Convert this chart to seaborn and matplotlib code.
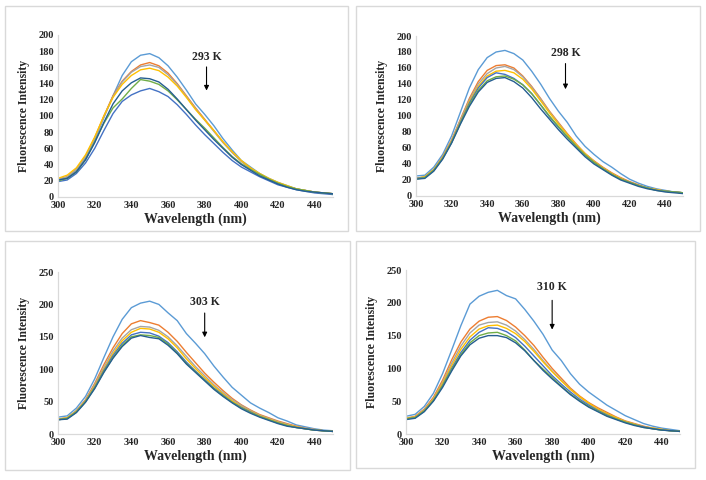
import numpy as np
import pandas as pd
import seaborn as sns
from matplotlib import pyplot as plt
from matplotlib.patches import Rectangle

# wavelength grid (nm)
wl = list(range(300, 451, 5))

# Excel-like palette, one colour per titrant concentration
colors = ['#5B9BD5', '#ED7D31', '#A5A5A5', '#FFC000', '#4472C4', '#70AD47', '#255E91']
series_names = ['s1', 's2', 's3', 's4', 's5', 's6', 's7']

# ---- 293 K ----
k293_s1 = [22, 24, 33, 48, 70, 98, 125, 150, 167, 175, 177, 172, 162, 148, 132, 115, 102, 88, 72, 58, 45, 37, 29, 23, 18, 14, 10, 8, 6, 5, 4]
k293_s2 = [21, 25, 34, 50, 73, 100, 125, 143, 155, 163, 166, 162, 153, 140, 125, 110, 96, 82, 68, 55, 44, 35, 28, 22, 17, 13, 10, 8, 6, 5, 4]
k293_s3 = [22, 25, 34, 50, 72, 99, 124, 142, 154, 161, 163, 160, 151, 139, 124, 109, 95, 81, 67, 55, 44, 35, 28, 22, 17, 13, 10, 8, 6, 5, 4]
k293_s4 = [23, 27, 36, 52, 74, 100, 123, 139, 150, 157, 159, 156, 148, 137, 123, 108, 95, 82, 68, 56, 45, 36, 29, 23, 18, 14, 10, 8, 6, 5, 4]
k293_s5 = [19, 21, 29, 42, 60, 82, 103, 118, 126, 131, 134, 130, 124, 114, 102, 89, 77, 66, 55, 45, 37, 31, 25, 20, 15, 12, 9, 7, 5, 4, 3]
k293_s6 = [20, 23, 31, 46, 68, 91, 110, 121, 134, 145, 143, 139, 131, 120, 108, 96, 85, 73, 61, 50, 41, 34, 28, 22, 17, 13, 10, 8, 6, 5, 4]
k293_s7 = [21, 23, 31, 46, 67, 92, 115, 131, 141, 147, 146, 142, 133, 121, 108, 95, 83, 71, 60, 49, 40, 33, 26, 21, 16, 12, 9, 7, 6, 5, 4]

# ---- 298 K ----
k298_s1 = [25, 26, 36, 52, 75, 105, 135, 158, 173, 180, 182, 178, 170, 156, 140, 122, 106, 92, 75, 62, 52, 43, 36, 28, 21, 16, 12, 9, 7, 5, 4]
k298_s2 = [22, 24, 33, 49, 70, 96, 122, 143, 157, 163, 164, 160, 150, 137, 122, 106, 92, 78, 65, 53, 44, 36, 29, 23, 18, 14, 10, 8, 6, 5, 4]
k298_s3 = [22, 24, 33, 48, 69, 95, 120, 140, 153, 160, 162, 158, 149, 136, 121, 105, 91, 77, 64, 53, 43, 35, 28, 22, 17, 13, 10, 8, 6, 5, 4]
k298_s4 = [22, 24, 33, 48, 68, 93, 118, 137, 150, 156, 157, 154, 146, 134, 119, 104, 90, 77, 64, 53, 43, 35, 28, 22, 17, 13, 10, 8, 6, 5, 4]
k298_s5 = [22, 23, 32, 47, 67, 92, 116, 135, 148, 154, 152, 147, 139, 128, 114, 99, 86, 74, 62, 51, 42, 34, 27, 21, 17, 13, 10, 7, 6, 5, 4]
k298_s6 = [21, 23, 32, 47, 67, 91, 114, 132, 144, 149, 150, 146, 139, 128, 114, 100, 87, 74, 62, 51, 42, 34, 27, 21, 17, 13, 10, 7, 6, 5, 4]
k298_s7 = [21, 22, 31, 46, 66, 90, 112, 130, 142, 147, 148, 143, 135, 123, 109, 96, 83, 71, 60, 49, 40, 33, 26, 20, 16, 12, 9, 7, 5, 4, 3]

# ---- 303 K ----
k303_s1 = [26, 28, 40, 58, 85, 118, 150, 177, 195, 202, 205, 200, 187, 175, 155, 140, 124, 105, 88, 72, 60, 48, 40, 33, 25, 20, 14, 11, 8, 6, 5]
k303_s2 = [23, 25, 36, 53, 78, 107, 133, 155, 170, 175, 172, 168, 157, 143, 126, 110, 94, 80, 67, 55, 45, 37, 30, 25, 20, 16, 12, 9, 7, 5, 4]
k303_s3 = [23, 25, 36, 52, 76, 103, 128, 148, 161, 166, 165, 160, 150, 136, 120, 104, 90, 76, 64, 53, 44, 36, 29, 24, 19, 15, 11, 9, 7, 5, 4]
k303_s4 = [23, 25, 35, 51, 74, 100, 124, 144, 157, 163, 162, 157, 147, 133, 116, 101, 87, 74, 62, 51, 42, 35, 28, 23, 18, 14, 11, 8, 6, 5, 4]
k303_s5 = [22, 24, 34, 50, 72, 98, 121, 140, 153, 157, 156, 151, 141, 127, 111, 97, 84, 71, 60, 49, 41, 34, 27, 22, 17, 13, 10, 8, 6, 5, 4]
k303_s6 = [22, 24, 34, 50, 71, 96, 118, 137, 150, 153, 152, 149, 139, 125, 109, 96, 83, 70, 59, 49, 40, 33, 27, 22, 17, 13, 10, 8, 6, 5, 4]
k303_s7 = [22, 23, 33, 49, 70, 95, 117, 135, 148, 152, 149, 147, 137, 124, 108, 95, 82, 69, 58, 48, 39, 32, 26, 21, 16, 12, 10, 8, 6, 5, 4]

# ---- 310 K ----
k310_s1 = [27, 30, 42, 62, 92, 128, 165, 198, 210, 216, 219, 211, 206, 190, 172, 152, 128, 112, 92, 76, 64, 54, 44, 36, 28, 22, 16, 12, 9, 7, 5]
k310_s2 = [24, 27, 38, 56, 82, 113, 140, 160, 172, 178, 179, 173, 163, 150, 135, 117, 100, 85, 70, 58, 48, 40, 33, 26, 20, 16, 12, 9, 7, 5, 4]
k310_s3 = [24, 26, 37, 54, 79, 108, 134, 154, 166, 170, 171, 166, 157, 144, 129, 112, 96, 82, 68, 56, 46, 38, 31, 25, 19, 15, 11, 9, 7, 5, 4]
k310_s4 = [24, 26, 36, 53, 77, 104, 129, 148, 160, 165, 166, 161, 153, 141, 126, 110, 95, 81, 68, 57, 47, 38, 31, 25, 19, 15, 11, 9, 7, 5, 4]
k310_s5 = [23, 25, 35, 51, 74, 100, 124, 143, 155, 162, 161, 156, 147, 134, 119, 104, 89, 76, 64, 53, 44, 36, 29, 23, 18, 14, 11, 8, 6, 5, 4]
k310_s6 = [23, 25, 35, 51, 73, 98, 121, 139, 150, 154, 155, 150, 142, 128, 112, 99, 86, 73, 61, 51, 42, 35, 28, 23, 18, 14, 10, 8, 6, 5, 4]
k310_s7 = [22, 24, 34, 50, 71, 96, 119, 136, 146, 150, 150, 147, 139, 127, 112, 97, 84, 72, 60, 50, 41, 34, 27, 22, 17, 13, 10, 8, 6, 5, 4]

panels = [
    ('293 K', [k293_s1, k293_s2, k293_s3, k293_s4, k293_s5, k293_s6, k293_s7], 200, 20, (381, 173), (164, 128)),
    ('298 K', [k298_s1, k298_s2, k298_s3, k298_s4, k298_s5, k298_s6, k298_s7], 200, 20, (384, 179), (169, 130)),
    ('303 K', [k303_s1, k303_s2, k303_s3, k303_s4, k303_s5, k303_s6, k303_s7], 250, 50, (380, 204), (191, 145)),
    ('310 K', [k310_s1, k310_s2, k310_s3, k310_s4, k310_s5, k310_s6, k310_s7], 250, 50, (380, 224), (208, 155)),
]

# axes rectangles and panel borders, in figure fractions
ax_pos = [[0.0822, 0.5896, 0.3895, 0.3375],
          [0.5892, 0.5917, 0.3782, 0.3333],
          [0.0822, 0.0958, 0.3895, 0.3375],
          [0.5751, 0.0958, 0.3881, 0.3417]]
borders = [(5, 6, 348, 231), (356, 6, 700, 231), (5, 241, 350, 470), (356, 241, 695, 468)]

sns.set_style('white')
plt.rcParams['font.family'] = ['Liberation Serif', 'DejaVu Serif']

fig = plt.figure(figsize=(7.06, 4.80), dpi=100)

for (x0, y0, x1, y1) in borders:
    fig.add_artist(Rectangle((x0 / 706, 1 - y1 / 480), (x1 - x0) / 706, (y1 - y0) / 480,
                             transform=fig.transFigure, fill=False, edgecolor='#D9D9D9', linewidth=1))

for pos, (label, curves, ymax, ystep, txt_xy, arr_y) in zip(ax_pos, panels):
    ax = fig.add_axes(pos)
    rows = []
    for name, vals in zip(series_names, curves):
        for w, v in zip(wl, vals):
            rows.append((name, w, v))
    df = pd.DataFrame(rows, columns=['series', 'wl', 'val'])
    sns.lineplot(data=df, x='wl', y='val', hue='series', palette=colors,
                 legend=False, linewidth=1.0, ax=ax)

    ax.set_xlim(300, 450)
    ax.set_ylim(0, ymax)
    ax.set_xticks(range(300, 441, 20))
    ax.set_yticks(range(0, ymax + 1, ystep))
    ax.tick_params(length=0, labelsize=7.5, pad=3)
    for t in ax.get_xticklabels() + ax.get_yticklabels():
        t.set_fontweight('bold')
    for s in ['top', 'right']:
        ax.spines[s].set_visible(False)
    for s in ['left', 'bottom']:
        ax.spines[s].set_color('#D9D9D9')
        ax.spines[s].set_linewidth(0.9)
    ax.set_xlabel('Wavelength (nm)', fontsize=10, fontweight='bold', labelpad=2)
    ax.set_ylabel('Fluorescence Intensity', fontsize=8.5, fontweight='bold', labelpad=6)

    ax.text(txt_xy[0], txt_xy[1], label, fontsize=8.5, fontweight='bold', ha='center', va='center')
    ax.annotate('', xy=(txt_xy[0], arr_y[1]), xytext=(txt_xy[0], arr_y[0]),
                arrowprops=dict(arrowstyle='-|>', color='black', lw=0.8, mutation_scale=7))

fig.savefig('out.png', dpi=100)
